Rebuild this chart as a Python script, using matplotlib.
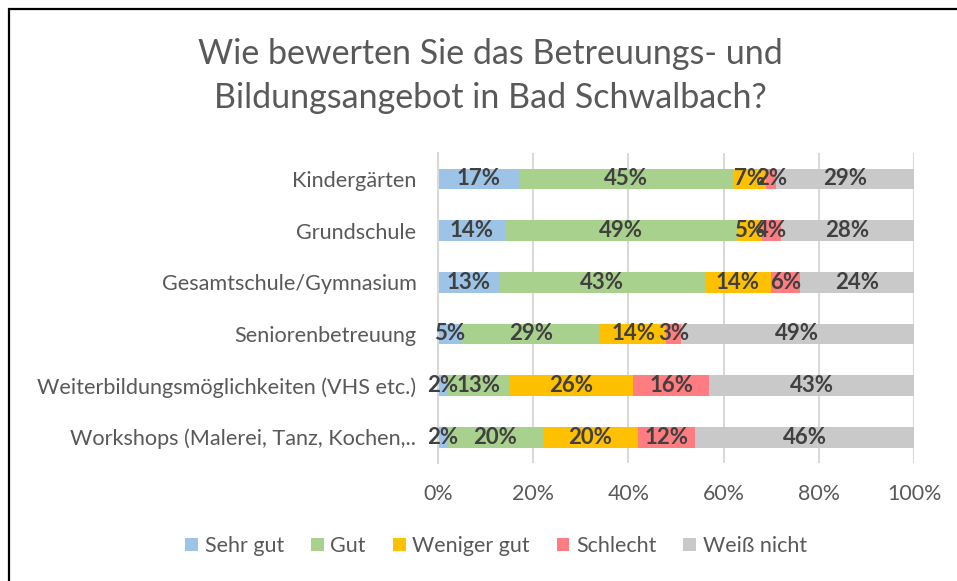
import numpy as np
import matplotlib.pyplot as plt
from matplotlib.patches import Rectangle

plt.rcParams['font.family'] = ['Lato', 'DejaVu Sans']

categories = [
    "Kindergärten",
    "Grundschule",
    "Gesamtschule/Gymnasium",
    "Seniorenbetreuung",
    "Weiterbildungsmöglichkeiten (VHS etc.)",
    "Workshops (Malerei, Tanz, Kochen,..",
]
series_names = ["Sehr gut", "Gut", "Weniger gut", "Schlecht", "Weiß nicht"]
sehr_gut = [17, 14, 13, 5, 2, 2]
gut = [45, 49, 43, 29, 13, 20]
weniger_gut = [7, 5, 14, 14, 26, 20]
schlecht = [2, 4, 6, 3, 16, 12]
weiss_nicht = [29, 28, 24, 49, 43, 46]
colors = ["#9DC3E6", "#A9D18E", "#FFC000", "#FF7C80", "#C9C9C9"]
x_ticks = [0, 20, 40, 60, 80, 100]

values = np.array([sehr_gut, gut, weniger_gut, schlecht, weiss_nicht], dtype=float)

fig = plt.figure(figsize=(9.57, 5.81), dpi=100)
ax = fig.add_axes([438 / 957, 1 - 463 / 581, 476 / 957, 310 / 581])

y = np.arange(len(categories))
left = np.zeros(len(categories))
for name, vals, col in zip(series_names, values, colors):
    bars = ax.barh(y, vals, left=left, height=0.4, color=col, label=name, zorder=2)
    for b, v in zip(bars, vals):
        ax.text(b.get_x() + b.get_width() / 2, b.get_y() + b.get_height() / 2,
                f"{v:.0f}%", ha="center", va="center", fontsize=16,
                fontweight="bold", color="#404040", zorder=3)
    left += vals

ax.set_xlim(0, 100)
ax.set_ylim(len(categories) - 0.5, -0.5)
ax.set_yticks(y)
ax.set_yticklabels(categories, fontsize=15.6, color="#595959")
ax.set_xticks(x_ticks)
ax.set_xticklabels([f"{t}%" for t in x_ticks], fontsize=15.4, color="#595959")
ax.tick_params(axis="both", length=0)
ax.tick_params(axis="y", pad=15.5)
ax.tick_params(axis="x", pad=15)
ax.grid(axis="x", color="#D9D9D9", linewidth=1.5, zorder=0)
for side in ["top", "right", "bottom"]:
    ax.spines[side].set_visible(False)
ax.spines["left"].set_color("#D9D9D9")
ax.spines["left"].set_linewidth(1.5)

fig.text(490 / 957, 1 - 76 / 581, "Wie bewerten Sie das Betreuungs- und\nBildungsangebot in Bad Schwalbach?",
         ha="center", va="center", fontsize=24.5, color="#595959", linespacing=1.45)

handles, labels = ax.get_legend_handles_labels()
fig.legend(handles, labels, loc="center", bbox_to_anchor=(496 / 957, 1 - 546 / 581),
           ncol=5, frameon=False, fontsize=15.5, handlelength=0.6, handleheight=0.6,
           handletextpad=0.3, columnspacing=1.25, labelcolor="#595959")

fig.patches.append(Rectangle((9 / 957, -0.1), 1.1, 1 - 9 / 581 + 0.1, transform=fig.transFigure,
                             fill=False, edgecolor="black", linewidth=1.6))

fig.savefig("out.png", dpi=100)
